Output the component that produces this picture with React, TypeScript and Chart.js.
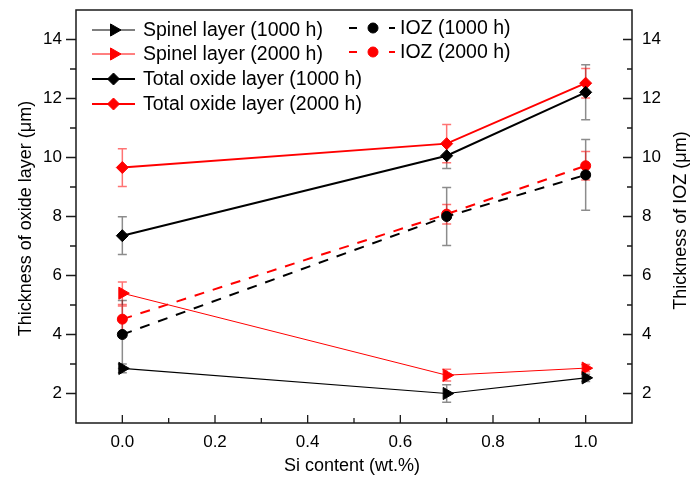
import React, { useEffect, useRef } from 'react';
import { Chart, registerables } from 'chart.js';

Chart.register(...registerables);

// ---- Data ----
const siContent = [0, 0.7, 1.0];

const spinel1000 = [2.85, 2.0, 2.53];
const spinel1000Err = [0.15, 0.3, 0.12];
const spinel2000 = [5.4, 2.62, 2.86];
const spinel2000Err = [0.38, 0.2, 0.12];
const total1000 = [7.35, 10.06, 12.21];
const total1000Err = [0.64, 0.43, 0.93];
const total2000 = [9.66, 10.47, 12.52];
const total2000Err = [0.64, 0.65, 0.5];
const ioz1000 = [4.0, 8.0, 9.41];
const ioz1000Err = [1.15, 0.98, 1.2];
const ioz2000 = [4.52, 8.08, 9.72];
const ioz2000Err = [0.45, 0.33, 0.48];

const xTickValues = [0, 0.2, 0.4, 0.6, 0.8, 1.0];
const xTickLabels = ['0.0', '0.2', '0.4', '0.6', '0.8', '1.0'];
const xMinorValues = [0.1, 0.3, 0.5, 0.7, 0.9];
const yTickValues = [2, 4, 6, 8, 10, 12, 14];
const yTickLabels = ['2', '4', '6', '8', '10', '12', '14'];
const yMinorValues = [3, 5, 7, 9, 11, 13];

const FONT = '"Liberation Sans", Arial, sans-serif';
const RED = '#ff0000';
const BLACK = '#000000';

type DS = {
  label: string;
  values: number[];
  errs: number[];
  color: string;
  errColor: string;
  width: number;
  dash: number[];
  style: string;
  rotation: number;
  radius: number;
  axis: string;
};

const seriesDefs: DS[] = [
  { label: 'Spinel layer (1000 h)', values: spinel1000, errs: spinel1000Err, color: BLACK, errColor: 'rgba(0,0,0,0.45)', width: 1.2, dash: [], style: 'triangle', rotation: 90, radius: 7, axis: 'y' },
  { label: 'Spinel layer (2000 h)', values: spinel2000, errs: spinel2000Err, color: RED, errColor: 'rgba(255,0,0,0.55)', width: 1, dash: [], style: 'triangle', rotation: 90, radius: 7, axis: 'y' },
  { label: 'Total oxide layer (1000 h)', values: total1000, errs: total1000Err, color: BLACK, errColor: 'rgba(0,0,0,0.45)', width: 2, dash: [], style: 'rectRot', rotation: 0, radius: 6, axis: 'y' },
  { label: 'Total oxide layer (2000 h)', values: total2000, errs: total2000Err, color: RED, errColor: 'rgba(255,0,0,0.55)', width: 2, dash: [], style: 'rectRot', rotation: 0, radius: 6, axis: 'y' },
  { label: 'IOZ (1000 h)', values: ioz1000, errs: ioz1000Err, color: BLACK, errColor: 'rgba(0,0,0,0.45)', width: 2, dash: [10, 9], style: 'circle', rotation: 0, radius: 5, axis: 'y2' },
  { label: 'IOZ (2000 h)', values: ioz2000, errs: ioz2000Err, color: RED, errColor: 'rgba(255,0,0,0.55)', width: 2, dash: [10, 9], style: 'circle', rotation: 0, radius: 5, axis: 'y2' },
];

function drawMarker(ctx: CanvasRenderingContext2D, style: string, x: number, y: number, r: number, color: string) {
  ctx.save();
  ctx.fillStyle = color;
  ctx.strokeStyle = color;
  ctx.lineWidth = 1;
  ctx.setLineDash([]);
  ctx.beginPath();
  if (style === 'triangle') {
    ctx.moveTo(x + r, y);
    ctx.lineTo(x - r * 0.5, y - r * 0.866);
    ctx.lineTo(x - r * 0.5, y + r * 0.866);
    ctx.closePath();
  } else if (style === 'rectRot') {
    ctx.moveTo(x, y - r);
    ctx.lineTo(x + r, y);
    ctx.lineTo(x, y + r);
    ctx.lineTo(x - r, y);
    ctx.closePath();
  } else {
    ctx.arc(x, y, r, 0, Math.PI * 2);
  }
  ctx.fill();
  ctx.stroke();
  ctx.restore();
}

const errorBarPlugin = {
  id: 'errorBars',
  beforeDatasetsDraw(chart: any) {
    const ctx = chart.ctx as CanvasRenderingContext2D;
    chart.data.datasets.forEach((ds: any, di: number) => {
      const meta = chart.getDatasetMeta(di);
      const scale = chart.scales[ds.yAxisID];
      ctx.save();
      ctx.strokeStyle = ds.errColor;
      ctx.lineWidth = 1.5;
      meta.data.forEach((pt: any, i: number) => {
        const v = ds.values[i];
        const e = ds.errs[i];
        const x = pt.x;
        const yt = scale.getPixelForValue(v + e);
        const yb = scale.getPixelForValue(v - e);
        ctx.beginPath();
        ctx.moveTo(x, yt);
        ctx.lineTo(x, yb);
        ctx.moveTo(x - 4.5, yt);
        ctx.lineTo(x + 4.5, yt);
        ctx.moveTo(x - 4.5, yb);
        ctx.lineTo(x + 4.5, yb);
        ctx.stroke();
      });
      ctx.restore();
    });
  },
};

const axesPlugin = {
  id: 'axesDecor',
  afterDraw(chart: any) {
    const ctx = chart.ctx as CanvasRenderingContext2D;
    const { left, right, top, bottom } = chart.chartArea;
    const xs = chart.scales.x;
    const ys = chart.scales.y;
    const ys2 = chart.scales.y2;
    ctx.save();
    ctx.strokeStyle = '#1a1a1a';
    ctx.lineWidth = 1.5;
    ctx.setLineDash([]);
    ctx.strokeRect(left, top, right - left, bottom - top);

    ctx.lineWidth = 1.3;
    ctx.beginPath();
    xTickValues.forEach((v) => {
      const px = xs.getPixelForValue(v);
      ctx.moveTo(px, bottom);
      ctx.lineTo(px, bottom - 8);
    });
    xMinorValues.forEach((v) => {
      const px = xs.getPixelForValue(v);
      ctx.moveTo(px, bottom);
      ctx.lineTo(px, bottom - 5);
    });
    yTickValues.forEach((v) => {
      const py = ys.getPixelForValue(v);
      ctx.moveTo(left, py);
      ctx.lineTo(left - 10, py);
    });
    yMinorValues.forEach((v) => {
      const py = ys.getPixelForValue(v);
      ctx.moveTo(left, py);
      ctx.lineTo(left - 6, py);
    });
    yTickValues.forEach((v) => {
      const py = ys2.getPixelForValue(v);
      ctx.moveTo(right, py);
      ctx.lineTo(right - 9, py);
    });
    yMinorValues.forEach((v) => {
      const py = ys2.getPixelForValue(v);
      ctx.moveTo(right, py);
      ctx.lineTo(right - 5, py);
    });
    ctx.stroke();

    ctx.fillStyle = '#000';
    ctx.font = `17px ${FONT}`;
    ctx.textBaseline = 'middle';
    ctx.textAlign = 'center';
    xTickValues.forEach((v, i) => {
      ctx.fillText(xTickLabels[i], xs.getPixelForValue(v), bottom + 19);
    });
    ctx.textAlign = 'right';
    yTickValues.forEach((v, i) => {
      ctx.fillText(yTickLabels[i], left - 14, ys.getPixelForValue(v));
    });
    ctx.textAlign = 'left';
    yTickValues.forEach((v, i) => {
      ctx.fillText(yTickLabels[i], right + 10, ys2.getPixelForValue(v));
    });

    ctx.font = `18px ${FONT}`;
    ctx.textAlign = 'center';
    ctx.fillText('Si content (wt.%)', (left + right) / 2 - 2, bottom + 43);
    ctx.save();
    ctx.translate(26, (top + bottom) / 2 + 2);
    ctx.rotate(-Math.PI / 2);
    ctx.fillText('Thickness of oxide layer (\u03bcm)', 0, 0);
    ctx.restore();
    ctx.save();
    ctx.translate(681, (top + bottom) / 2 + 4);
    ctx.rotate(-Math.PI / 2);
    ctx.fillText('Thickness of IOZ (\u03bcm)', 0, 0);
    ctx.restore();

    // legend
    ctx.font = `19.5px ${FONT}`;
    ctx.textAlign = 'left';
    const col1 = [0, 1, 2, 3];
    const rows1 = [30, 54, 79, 104];
    col1.forEach((si, k) => {
      const s = seriesDefs[si];
      const y = rows1[k];
      ctx.save();
      ctx.strokeStyle = s.color;
      ctx.lineWidth = s.width;
      ctx.beginPath();
      ctx.moveTo(92, y);
      ctx.lineTo(135, y);
      ctx.stroke();
      ctx.restore();
      drawMarker(ctx, s.style, s.style === 'triangle' ? 114 : 113.5, y, s.radius, s.color);
      ctx.fillStyle = '#000';
      ctx.fillText(s.label, 143, y + 1);
    });
    const col2 = [4, 5];
    const rows2 = [28, 52];
    col2.forEach((si, k) => {
      const s = seriesDefs[si];
      const y = rows2[k];
      ctx.save();
      ctx.strokeStyle = s.color;
      ctx.lineWidth = s.width;
      ctx.beginPath();
      ctx.moveTo(349, y);
      ctx.lineTo(357, y);
      ctx.moveTo(389, y);
      ctx.lineTo(395, y);
      ctx.stroke();
      ctx.restore();
      drawMarker(ctx, s.style, 373, y, s.radius, s.color);
      ctx.fillStyle = '#000';
      ctx.fillText(s.label, 400, y + 1);
    });
    ctx.restore();
  },
};

export default function App() {
  const ref = useRef<HTMLCanvasElement | null>(null);
  useEffect(() => {
    document.body.style.margin = '0';
    document.body.style.background = '#fff';
    const canvas = ref.current;
    if (!canvas) return;
    const datasets = seriesDefs.map((s) => ({
      label: s.label,
      data: siContent.map((x, i) => ({ x, y: s.values[i] })),
      values: s.values,
      errs: s.errs,
      errColor: s.errColor,
      yAxisID: s.axis,
      borderColor: s.color,
      backgroundColor: s.color,
      borderWidth: s.width,
      borderDash: s.dash,
      pointStyle: s.style,
      pointRotation: s.rotation,
      pointRadius: s.radius,
      pointBorderWidth: 1,
      pointBackgroundColor: s.color,
      pointBorderColor: s.color,
      tension: 0,
      fill: false,
    }));
    const chart = new Chart(canvas, {
      type: 'line',
      data: { datasets: datasets as any },
      options: {
        animation: false,
        responsive: false,
        devicePixelRatio: 1,
        layout: { padding: { left: 76, right: 62, top: 10, bottom: 58 } },
        plugins: { legend: { display: false }, tooltip: { enabled: false } },
        scales: {
          x: { type: 'linear', min: -0.1, max: 1.1, display: false },
          y: { type: 'linear', min: 1, max: 15, display: false },
          y2: { type: 'linear', min: 1, max: 15, display: false, position: 'right' },
        },
      },
      plugins: [errorBarPlugin, axesPlugin],
    });
    return () => chart.destroy();
  }, []);
  return (
    <div style={{ width: 694, height: 481, background: '#fff' }}>
      <canvas ref={ref} width={694} height={481} style={{ display: 'block' }} />
    </div>
  );
}
